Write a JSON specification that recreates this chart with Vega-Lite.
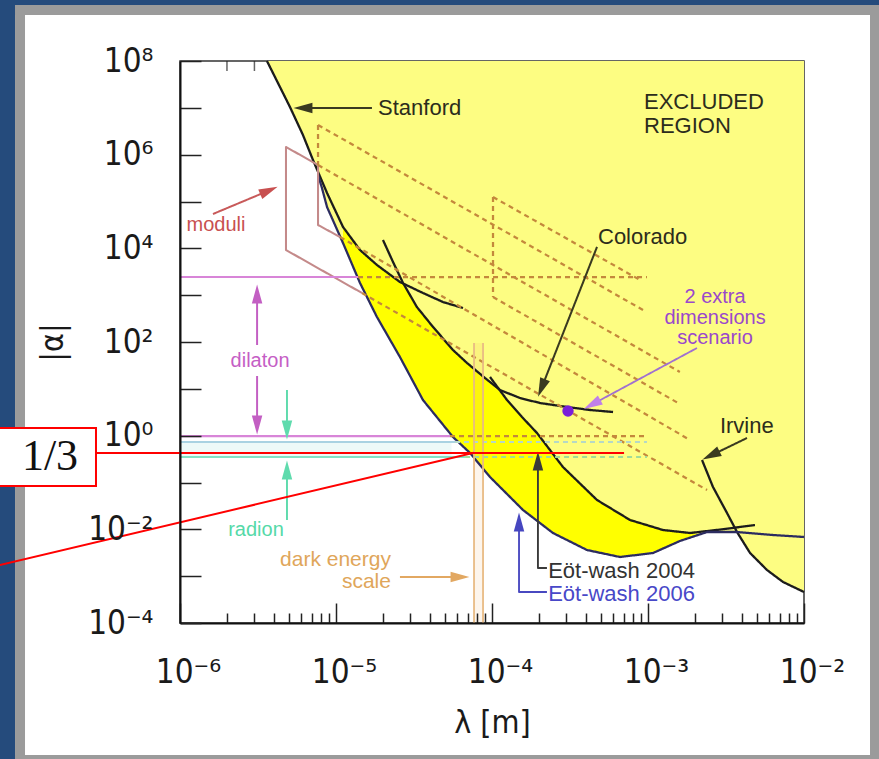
{
 "$schema": "https://vega.github.io/schema/vega-lite/v6.json",
 "width": 624, "height": 562,
 "autosize": {"type": "none"},
 "padding": {"left": 180, "top": 61, "right": 75, "bottom": 136},
 "background": "#ffffff",
 "config": {"view": {"stroke": null}},
 "datasets": {
  "pale": [
   {"x":3.61e-6,"y":1e8},{"x":5.07e-6,"y":1.04e7},{"x":6.14e-6,"y":2.63e6},{"x":7.12e-6,"y":7.69e5},
   {"x":7.67e-6,"y":3.68e5},{"x":8.13e-6,"y":1.94e5},{"x":8.76e-6,"y":7.63e4},{"x":1.109e-5,"y":1.3e4},
   {"x":1.425e-5,"y":1820},{"x":1.83e-5,"y":342},{"x":2.57e-5,"y":47.8},{"x":3.61e-5,"y":5.77},
   {"x":5.62e-5,"y":0.937},{"x":7.23e-5,"y":0.427},{"x":9.71e-5,"y":0.131},{"x":1.58e-4,"y":0.0259},
   {"x":2.46e-4,"y":0.00835},{"x":4.06e-4,"y":0.00362},{"x":6.61e-4,"y":0.002565},{"x":1.077e-3,"y":0.003124},
   {"x":1.6e-3,"y":0.00563},{"x":2.39e-3,"y":0.00877},{"x":3.72e-3,"y":0.00877},{"x":4.51e-3,"y":0.003124},
   {"x":5.79e-3,"y":0.001354},{"x":7.34e-3,"y":0.000751},{"x":1e-2,"y":0.000459}
  ],
  "bright": [
   {"x":1.109e-5,"lo":1.3e4,"hi":2.86e4},{"x":1.266e-5,"lo":4630,"hi":1.58e4},{"x":1.425e-5,"lo":1820,"hi":9210},
   {"x":1.652e-5,"lo":680,"hi":5920},{"x":1.915e-5,"lo":267,"hi":3990},{"x":2.29e-5,"lo":95.2,"hi":2700},
   {"x":2.69e-5,"lo":35.6,"hi":1820},{"x":3.3e-5,"lo":9.92,"hi":559},{"x":4.19e-5,"lo":3.2,"hi":209},
   {"x":5.62e-5,"lo":0.937,"hi":67.5},{"x":7.23e-5,"lo":0.427,"hi":30.7},{"x":9.02e-5,"lo":0.176,"hi":17.0},
   {"x":1.077e-4,"lo":0.0929,"hi":10.4},{"x":1.304e-4,"lo":0.049,"hi":4.98},{"x":1.627e-4,"lo":0.02344,"hi":2.16},
   {"x":2.03e-4,"lo":0.01365,"hi":0.937},{"x":2.73e-4,"lo":0.00703,"hi":0.2608},{"x":3.67e-4,"lo":0.0043,"hi":0.0929},
   {"x":4.92e-4,"lo":0.003155,"hi":0.03833},{"x":6.61e-4,"lo":0.002565,"hi":0.02125},{"x":8.89e-4,"lo":0.002887,"hi":0.01365},
   {"x":1.194e-3,"lo":0.00362,"hi":0.01016},{"x":1.6e-3,"lo":0.00563,"hi":0.00877},{"x":2.154e-3,"lo":0.00795,"hi":0.00795}
  ],
  "lines": [
   {"id":"st","k":"curve","o":1,"x":3.61e-6,"y":1e8},{"id":"st","k":"curve","o":2,"x":5.07e-6,"y":1.04e7},
   {"id":"st","k":"curve","o":3,"x":6.14e-6,"y":2.63e6},{"id":"st","k":"curve","o":4,"x":7.12e-6,"y":7.69e5},
   {"id":"st","k":"curve","o":5,"x":8.76e-6,"y":1.52e5},{"id":"st","k":"curve","o":6,"x":1.109e-5,"y":2.86e4},
   {"id":"st","k":"curve","o":7,"x":1.425e-5,"y":9210},{"id":"st","k":"curve","o":8,"x":1.83e-5,"y":4410},
   {"id":"st","k":"curve","o":9,"x":2.57e-5,"y":1910},{"id":"st","k":"curve","o":10,"x":3.61e-5,"y":1112},
   {"id":"st","k":"curve","o":11,"x":4.85e-5,"y":714},{"id":"st","k":"curve","o":12,"x":6.52e-5,"y":532},

   {"id":"co","k":"curve","o":1,"x":2.0e-5,"y":1.51e4},{"id":"co","k":"curve","o":2,"x":2.32e-5,"y":5110},
   {"id":"co","k":"curve","o":3,"x":2.69e-5,"y":1820},{"id":"co","k":"curve","o":4,"x":3.3e-5,"y":559},
   {"id":"co","k":"curve","o":5,"x":4.19e-5,"y":209},{"id":"co","k":"curve","o":6,"x":5.62e-5,"y":67.5},
   {"id":"co","k":"curve","o":7,"x":6.92e-5,"y":35.6},{"id":"co","k":"curve","o":8,"x":9.02e-5,"y":17.0},
   {"id":"co","k":"curve","o":9,"x":1.125e-4,"y":9.44},{"id":"co","k":"curve","o":10,"x":1.51e-4,"y":6.37},
   {"id":"co","k":"curve","o":11,"x":2.03e-4,"y":4.98},{"id":"co","k":"curve","o":12,"x":3.03e-4,"y":4.094},
   {"id":"co","k":"curve","o":13,"x":4.25e-4,"y":3.533},{"id":"co","k":"curve","o":14,"x":5.97e-4,"y":3.2},

   {"id":"e4","k":"curve","o":1,"x":9.71e-5,"y":17.9},{"id":"e4","k":"curve","o":2,"x":1.248e-4,"y":5.77},
   {"id":"e4","k":"curve","o":3,"x":1.557e-4,"y":2.503},{"id":"e4","k":"curve","o":4,"x":1.943e-4,"y":1.14},
   {"id":"e4","k":"curve","o":5,"x":2.85e-4,"y":0.2143},{"id":"e4","k":"curve","o":6,"x":4.71e-4,"y":0.0423},
   {"id":"e4","k":"curve","o":7,"x":7.67e-4,"y":0.01582},{"id":"e4","k":"curve","o":8,"x":1.248e-3,"y":0.009676},
   {"id":"e4","k":"curve","o":9,"x":1.86e-3,"y":0.00835},{"id":"e4","k":"curve","o":10,"x":3.03e-3,"y":0.01006},
   {"id":"e4","k":"curve","o":11,"x":4.85e-3,"y":0.01237},

   {"id":"ir","k":"curve","o":1,"x":2.22e-3,"y":0.3022},{"id":"ir","k":"curve","o":2,"x":2.61e-3,"y":0.0801},
   {"id":"ir","k":"curve","o":3,"x":3.21e-3,"y":0.02233},{"id":"ir","k":"curve","o":4,"x":3.72e-3,"y":0.00877},
   {"id":"ir","k":"curve","o":5,"x":4.51e-3,"y":0.003124},{"id":"ir","k":"curve","o":6,"x":5.79e-3,"y":0.001354},
   {"id":"ir","k":"curve","o":7,"x":7.34e-3,"y":0.000751},{"id":"ir","k":"curve","o":8,"x":1e-2,"y":0.000459},

   {"id":"e6","k":"ew2006","o":1,"x":7.67e-6,"y":3.68e5},{"id":"e6","k":"ew2006","o":2,"x":8.13e-6,"y":1.94e5},
   {"id":"e6","k":"ew2006","o":3,"x":8.76e-6,"y":7.63e4},{"id":"e6","k":"ew2006","o":4,"x":1.109e-5,"y":1.3e4},
   {"id":"e6","k":"ew2006","o":5,"x":1.425e-5,"y":1820},{"id":"e6","k":"ew2006","o":6,"x":1.83e-5,"y":342},
   {"id":"e6","k":"ew2006","o":7,"x":2.57e-5,"y":47.8},{"id":"e6","k":"ew2006","o":8,"x":3.61e-5,"y":5.77},
   {"id":"e6","k":"ew2006","o":9,"x":5.62e-5,"y":0.937},{"id":"e6","k":"ew2006","o":10,"x":7.23e-5,"y":0.427},
   {"id":"e6","k":"ew2006","o":11,"x":9.71e-5,"y":0.131},{"id":"e6","k":"ew2006","o":12,"x":1.58e-4,"y":0.0259},
   {"id":"e6","k":"ew2006","o":13,"x":2.46e-4,"y":0.00835},{"id":"e6","k":"ew2006","o":14,"x":4.06e-4,"y":0.00362},
   {"id":"e6","k":"ew2006","o":15,"x":6.61e-4,"y":0.002565},{"id":"e6","k":"ew2006","o":16,"x":1.077e-3,"y":0.003124},
   {"id":"e6","k":"ew2006","o":17,"x":1.6e-3,"y":0.00563},{"id":"e6","k":"ew2006","o":18,"x":2.39e-3,"y":0.00877},
   {"id":"e6","k":"ew2006","o":19,"x":3.72e-3,"y":0.00877},{"id":"e6","k":"ew2006","o":20,"x":6.33e-3,"y":0.007567},
   {"id":"e6","k":"ew2006","o":21,"x":1e-2,"y":0.00686},

   {"id":"mo","k":"moduli","o":1,"x":1.061e-5,"y":1.75e4},{"id":"mo","k":"moduli","o":2,"x":7.67e-6,"y":3.15e4},
   {"id":"mo","k":"moduli","o":3,"x":7.67e-6,"y":6.02e5},{"id":"mo","k":"moduli","o":4,"x":4.78e-6,"y":1.46e6},
   {"id":"mo","k":"moduli","o":5,"x":4.78e-6,"y":9210},{"id":"mo","k":"moduli","o":6,"x":1.468e-5,"y":1112},

   {"id":"d1","k":"dash","o":1,"x":7.67e-6,"y":4.3e6},{"id":"d1","k":"dash","o":2,"x":9.29e-4,"y":482},
   {"id":"d2","k":"dash","o":1,"x":7.67e-6,"y":6.02e5},{"id":"d2","k":"dash","o":2,"x":1.6e-3,"y":22.9},
   {"id":"d3","k":"dash","o":1,"x":1.061e-5,"y":1.75e4},{"id":"d3","k":"dash","o":2,"x":1.86e-3,"y":0.808},
   {"id":"d4","k":"dash","o":1,"x":1.468e-5,"y":1112},{"id":"d4","k":"dash","o":2,"x":2.39e-3,"y":0.0692},
   {"id":"pt","k":"dash","o":1,"x":1.015e-4,"y":1.248e5},{"id":"pt","k":"dash","o":2,"x":8.89e-4,"y":2110},
   {"id":"pb","k":"dash","o":1,"x":1.015e-4,"y":914},{"id":"pb","k":"dash","o":2,"x":1.6e-3,"y":4.745},
   {"id":"v1","k":"dash","o":1,"x":7.67e-6,"y":4.3e6},{"id":"v1","k":"dash","o":2,"x":7.67e-6,"y":6.02e5},
   {"id":"v2","k":"dash","o":1,"x":1.015e-4,"y":1.248e5},{"id":"v2","k":"dash","o":2,"x":1.015e-4,"y":914},
   {"id":"h1d","k":"dash","o":1,"x":1.384e-5,"y":2440},{"id":"h1d","k":"dash","o":2,"x":9.85e-4,"y":2440},
   {"id":"h2d","k":"dash","o":1,"x":5.38e-5,"y":0.98},{"id":"h2d","k":"dash","o":2,"x":9.85e-4,"y":0.98},
   {"id":"h3d","k":"dashc","o":1,"x":5.79e-5,"y":0.732},{"id":"h3d","k":"dashc","o":2,"x":9.85e-4,"y":0.732},
   {"id":"h4d","k":"dashg","o":1,"x":6.72e-5,"y":0.35},{"id":"h4d","k":"dashg","o":2,"x":9.85e-4,"y":0.35},
   {"id":"h1","k":"dil","o":1,"x":1e-6,"y":2440},{"id":"h1","k":"dil","o":2,"x":1.384e-5,"y":2440},
   {"id":"h2","k":"dil","o":1,"x":1e-6,"y":0.98},{"id":"h2","k":"dil","o":2,"x":5.38e-5,"y":0.98},
   {"id":"h3","k":"cyan","o":1,"x":1e-6,"y":0.732},{"id":"h3","k":"cyan","o":2,"x":5.79e-5,"y":0.732},
   {"id":"h4","k":"teal","o":1,"x":1e-6,"y":0.35},{"id":"h4","k":"teal","o":2,"x":6.72e-5,"y":0.35},

   {"id":"as","k":"olive","o":1,"x":1.7e-5,"y":9.92e6},{"id":"as","k":"olive","o":2,"x":6.24e-6,"y":9.92e6},
   {"id":"ac","k":"olive","o":1,"x":4.71e-4,"y":1.07e4},{"id":"ac","k":"olive","o":2,"x":2.09e-4,"y":10.94},
   {"id":"ai","k":"olive","o":1,"x":4.31e-3,"y":0.8914},{"id":"ai","k":"olive","o":2,"x":2.57e-3,"y":0.3866},
   {"id":"am","k":"modar","o":1,"x":1.627e-6,"y":5.41e4},{"id":"am","k":"modar","o":2,"x":3.665e-6,"y":1.68e5},
   {"id":"ad1","k":"dilar","o":1,"x":3.12e-6,"y":86.3},{"id":"ad1","k":"dilar","o":2,"x":3.12e-6,"y":1008},
   {"id":"ad2","k":"dilar","o":1,"x":3.12e-6,"y":18.8},{"id":"ad2","k":"dilar","o":2,"x":3.12e-6,"y":1.774},
   {"id":"ar1","k":"radar","o":1,"x":4.85e-6,"y":9.44},{"id":"ar1","k":"radar","o":2,"x":4.85e-6,"y":1.388},
   {"id":"ar2","k":"radar","o":1,"x":4.85e-6,"y":0.01582},{"id":"ar2","k":"radar","o":2,"x":4.85e-6,"y":0.176},
   {"id":"ade","k":"de","o":1,"x":2.57e-5,"y":9.6e-4},{"id":"ade","k":"de","o":2,"x":6.14e-5,"y":9.6e-4},
   {"id":"a04","k":"ew04","o":1,"x":2.25e-4,"y":1.494e-3},{"id":"a04","k":"ew04","o":2,"x":1.97e-4,"y":1.494e-3},
   {"id":"a04","k":"ew04","o":3,"x":1.97e-4,"y":0.274},
   {"id":"a06","k":"ew06","o":1,"x":2.25e-4,"y":4.59e-4},{"id":"a06","k":"ew06","o":2,"x":1.49e-4,"y":4.59e-4},
   {"id":"a06","k":"ew06","o":3,"x":1.49e-4,"y":0.01365},
   {"id":"a2x","k":"x2","o":1,"x":2.06e-3,"y":74.4},{"id":"a2x","k":"x2","o":2,"x":4.44e-4,"y":4.745},
   {"id":"dv1","k":"devert","o":1,"x":7.67e-5,"y":1e-4},{"id":"dv1","k":"devert","o":2,"x":7.67e-5,"y":95.3},
   {"id":"dv2","k":"devert","o":1,"x":8.76e-5,"y":1e-4},{"id":"dv2","k":"devert","o":2,"x":8.76e-5,"y":95.3}
  ],
  "red": [
   {"id":"r1","o":1,"x":2.894e-7,"y":0.427},{"id":"r1","o":2,"x":6.92e-4,"y":0.427},
   {"id":"r2","o":1,"x":7.02e-8,"y":1.731e-3},{"id":"r2","o":2,"x":7.55e-5,"y":0.427},
   {"id":"rb","o":1,"x":6.52e-8,"y":1.457},{"id":"rb","o":2,"x":2.894e-7,"y":1.457},
   {"id":"rb","o":3,"x":2.894e-7,"y":0.0842},{"id":"rb","o":4,"x":6.52e-8,"y":0.0842}
  ],
  "heads": [
   {"id":"up","k":"dilar","x":3.12e-6,"y":1008},{"id":"up","k":"radar","x":4.85e-6,"y":0.176},
   {"id":"up","k":"ew04","x":1.97e-4,"y":0.274},{"id":"up","k":"ew06","x":1.49e-4,"y":0.01365},
   {"id":"down","k":"dilar","x":3.12e-6,"y":1.774},{"id":"down","k":"radar","x":4.85e-6,"y":1.388},
   {"id":"left","k":"olive","x":6.24e-6,"y":9.92e6},
   {"id":"right","k":"de","x":6.14e-5,"y":9.6e-4},
   {"id":"colo","k":"olive","x":2.09e-4,"y":10.94},
   {"id":"mod","k":"modar","x":3.665e-6,"y":1.68e5},
   {"id":"irv","k":"olive","x":2.57e-3,"y":0.3866},
   {"id":"x2","k":"x2h","x":4.44e-4,"y":4.745}
  ],
  "txtL": [
   {"t":"Stanford","k":"dark","x":1.86e-5,"y":9.92e6},
   {"t":"EXCLUDED","k":"dark","x":9.43e-4,"y":1.33e7},
   {"t":"REGION","k":"dark","x":9.43e-4,"y":4.09e6},
   {"t":"Colorado","k":"dark","x":4.78e-4,"y":1.75e4},
   {"t":"Irvine","k":"dark","x":2.89e-3,"y":1.608}
  ],
  "txtEW": [
   {"t":"Eöt-wash 2004","k":"ew04","x":2.29e-4,"y":1.289e-3},
   {"t":"Eöt-wash 2006","k":"ew06","x":2.29e-4,"y":4.16e-4}
  ],
  "txtC": [
   {"t":"2 extra","k":"x2","x":2.69e-3,"y":914},
   {"t":"dimensions","k":"x2","x":2.69e-3,"y":325},
   {"t":"scenario","k":"x2","x":2.69e-3,"y":122},
   {"t":"moduli","k":"mod","x":1.7e-6,"y":3.15e4},
   {"t":"dilaton","k":"dil","x":3.26e-6,"y":39.3},
   {"t":"radion","k":"rad","x":3.07e-6,"y":0.00968}
  ],
  "txtR": [
   {"t":"dark energy","k":"de","x":2.25e-5,"y":0.002214},
   {"t":"scale","k":"de","x":2.25e-5,"y":0.000751}
  ]
 },
 "layer": [
  {"data":{"values":[{}]},"mark":{"type":"rect","fill":"#254b7c"},
   "encoding":{"x":{"datum":6.05e-8,"type":"quantitative","scale":{"type":"log","domain":[1e-6,1e-2],"nice":false},"axis":null},"x2":{"datum":8.76e-8},
    "y":{"datum":3.28e9,"type":"quantitative","scale":{"type":"log","domain":[1e-4,1e8],"nice":false},"axis":null},"y2":{"datum":7.26e-8}}},
  {"data":{"values":[{}]},"mark":{"type":"rect","fill":"#254b7c"},
   "encoding":{"x":{"datum":6.05e-8,"type":"quantitative","scale":{"type":"log","domain":[1e-6,1e-2],"nice":false},"axis":null},"x2":{"datum":3.56e-2},
    "y":{"datum":3.28e9,"type":"quantitative","scale":{"type":"log","domain":[1e-4,1e8],"nice":false},"axis":null},"y2":{"datum":1.569e9}}},
  {"data":{"values":[{}]},"mark":{"type":"rect","fill":"#9b9b9b"},
   "encoding":{"x":{"datum":8.76e-8,"type":"quantitative","scale":{"type":"log","domain":[1e-6,1e-2],"nice":false},"axis":null},"x2":{"datum":1.015e-7},
    "y":{"datum":1.569e9,"type":"quantitative","scale":{"type":"log","domain":[1e-4,1e8],"nice":false},"axis":null},"y2":{"datum":7.26e-8}}},
  {"data":{"values":[{}]},"mark":{"type":"rect","fill":"#9b9b9b"},
   "encoding":{"x":{"datum":8.76e-8,"type":"quantitative","scale":{"type":"log","domain":[1e-6,1e-2],"nice":false},"axis":null},"x2":{"datum":3.56e-2},
    "y":{"datum":1.569e9,"type":"quantitative","scale":{"type":"log","domain":[1e-4,1e8],"nice":false},"axis":null},"y2":{"datum":9.6e8}}},
  {"data":{"values":[{}]},"mark":{"type":"rect","fill":"#9b9b9b"},
   "encoding":{"x":{"datum":2.649e-2,"type":"quantitative","scale":{"type":"log","domain":[1e-6,1e-2],"nice":false},"axis":null},"x2":{"datum":3.56e-2},
    "y":{"datum":1.569e9,"type":"quantitative","scale":{"type":"log","domain":[1e-4,1e8],"nice":false},"axis":null},"y2":{"datum":7.26e-8}}},
  {"data":{"values":[{}]},"mark":{"type":"rect","fill":"#9b9b9b"},
   "encoding":{"x":{"datum":8.76e-8,"type":"quantitative","scale":{"type":"log","domain":[1e-6,1e-2],"nice":false},"axis":null},"x2":{"datum":3.56e-2},
    "y":{"datum":1.518e-7,"type":"quantitative","scale":{"type":"log","domain":[1e-4,1e8],"nice":false},"axis":null},"y2":{"datum":7.26e-8}}},
  {"data":{"values":[{}]},"mark":{"type":"rect","fillOpacity":0,"stroke":"#333333","strokeWidth":1.5},
   "encoding":{"x":{"datum":1e-6,"type":"quantitative","scale":{"type":"log","domain":[1e-6,1e-2],"nice":false},"axis":null},"x2":{"datum":1e-2},
    "y":{"datum":1e-4,"type":"quantitative","scale":{"type":"log","domain":[1e-4,1e8],"nice":false},"axis":null},"y2":{"datum":1e8}}},
  {"data":{"name":"pale"},"mark":{"type":"area","fill":"#fdfd82","stroke":null},
   "encoding":{
    "x":{"field":"x","type":"quantitative","scale":{"type":"log","domain":[1e-6,1e-2],"nice":false},
     "axis":{"orient":"bottom","zindex":1,"grid":false,
      "values":[1e-6,2e-6,3e-6,4e-6,5e-6,6e-6,7e-6,8e-6,9e-6,1e-5,2e-5,3e-5,4e-5,5e-5,6e-5,7e-5,8e-5,9e-5,1e-4,2e-4,3e-4,4e-4,5e-4,6e-4,7e-4,8e-4,9e-4,1e-3,2e-3,3e-3,4e-3,5e-3,6e-3,7e-3,8e-3,9e-3,1e-2],
      "labelExpr":"abs(log(datum.value)/LN10 - round(log(datum.value)/LN10)) < 0.01 ? '10' + (round(log(datum.value)/LN10) < 0 ? '⁻' : '') + substring('⁰¹²³⁴⁵⁶⁷⁸⁹', abs(round(log(datum.value)/LN10)), abs(round(log(datum.value)/LN10)) + 1) : ''",
      "tickSize":{"condition":{"test":"abs(log(datum.value)/LN10 - round(log(datum.value)/LN10)) < 0.01","value":-20},"value":-10},
      "tickColor":"#222222","tickWidth":1.5,"domainColor":"#111111","domainWidth":2,
      "labelFont":"Liberation Sans Narrow, DejaVu Sans Condensed, Liberation Sans","labelFontSize":33,"labelColor":"#1a1a1a",
      "labelPadding":53,"labelOffset":8,"labelFlush":false,"labelOverlap":false,"labelBound":false,"labelBaseline":"top",
      "title":"λ [m]","titleFont":"Liberation Sans Narrow, DejaVu Sans Condensed, Liberation Sans","titleFontSize":32,"titleFontWeight":"normal","titleColor":"#1a1a1a","titlePadding":8}},
    "y":{"field":"y","type":"quantitative","scale":{"type":"log","domain":[1e-4,1e8],"nice":false},
     "axis":{"orient":"left","zindex":1,"grid":false,
      "values":[1e-4,1e-3,1e-2,1e-1,1,10,100,1e3,1e4,1e5,1e6,1e7,1e8],
      "labelExpr":"round(log(datum.value)/LN10) % 2 == 0 ? '10' + (round(log(datum.value)/LN10) < 0 ? '⁻' : '') + substring('⁰¹²³⁴⁵⁶⁷⁸⁹', abs(round(log(datum.value)/LN10)), abs(round(log(datum.value)/LN10)) + 1) : ''",
      "tickSize":-21,"tickColor":"#222222","tickWidth":1.5,"domainColor":"#111111","domainWidth":2,
      "labelFont":"Liberation Sans Narrow, DejaVu Sans Condensed, Liberation Sans","labelFontSize":33,"labelColor":"#1a1a1a",
      "labelPadding":48,"labelFlush":false,"labelOverlap":false,"labelBound":false,"labelAlign":"right","labelBaseline":"middle",
      "title":"|α|","titleFont":"Liberation Sans Narrow, DejaVu Sans Condensed, Liberation Sans","titleFontSize":32,"titleFontWeight":"normal","titleColor":"#1a1a1a","titlePadding":18}},
    "y2":{"datum":1e8}}},
  {"data":{"name":"bright"},"mark":{"type":"area","fill":"#ffff00","stroke":null},
   "encoding":{"x":{"field":"x","type":"quantitative","scale":{"type":"log","domain":[1e-6,1e-2],"nice":false},"axis":null},
    "y":{"field":"lo","type":"quantitative","scale":{"type":"log","domain":[1e-4,1e8],"nice":false},"axis":null},"y2":{"field":"hi"}}},
  {"data":{"values":[{}]},"mark":{"type":"rect","fill":"#e8f8f6","opacity":0.8},
   "encoding":{"x":{"datum":1e-6,"type":"quantitative","scale":{"type":"log","domain":[1e-6,1e-2],"nice":false},"axis":null},"x2":{"datum":5.5e-5},
    "y":{"datum":0.72,"type":"quantitative","scale":{"type":"log","domain":[1e-4,1e8],"nice":false},"axis":null},"y2":{"datum":0.36}}},
  {"data":{"values":[{}]},"mark":{"type":"rect","fill":"#f0b060","opacity":0.12},
   "encoding":{"x":{"datum":7.67e-5,"type":"quantitative","scale":{"type":"log","domain":[1e-6,1e-2],"nice":false},"axis":null},"x2":{"datum":8.76e-5},
    "y":{"datum":1e-4,"type":"quantitative","scale":{"type":"log","domain":[1e-4,1e8],"nice":false},"axis":null},"y2":{"datum":95.3}}},
  {"data":{"values":[{"x":2e-6},{"x":3e-6}]},"mark":{"type":"tick","orient":"vertical","size":10,"thickness":1.5,"color":"#222222","yOffset":5},
   "encoding":{"x":{"field":"x","type":"quantitative","scale":{"type":"log","domain":[1e-6,1e-2],"nice":false},"axis":null},
    "y":{"datum":1e8,"type":"quantitative","scale":{"type":"log","domain":[1e-4,1e8],"nice":false},"axis":null}}},
  {"data":{"name":"lines"},"mark":{"type":"line","strokeCap":"butt","strokeJoin":"round"},
   "encoding":{"x":{"field":"x","type":"quantitative","scale":{"type":"log","domain":[1e-6,1e-2],"nice":false},"axis":null},
    "y":{"field":"y","type":"quantitative","scale":{"type":"log","domain":[1e-4,1e8],"nice":false},"axis":null},
    "detail":{"field":"id"},"order":{"field":"o","type":"quantitative"},
    "stroke":{"field":"k","type":"nominal","legend":null,"scale":{
     "domain":["curve","ew2006","dash","dashc","dashg","dil","cyan","teal","moduli","olive","modar","dilar","radar","de","ew04","ew06","x2","devert"],
     "range":["#1c1c1c","#2c2c60","#c4883c","#b5d8c6","#a2db98","#d885d8","#a9d2e2","#84e2c4","#c48a8a","#3a3a20","#c85a5a","#c35fc3","#5fdbad","#e2a862","#3a3a3a","#4848c0","#a070d0","#e9bb84"]}},
    "strokeWidth":{"field":"k","type":"nominal","legend":null,"scale":{
     "domain":["curve","ew2006","dash","dashc","dashg","dil","cyan","teal","moduli","olive","modar","dilar","radar","de","ew04","ew06","x2","devert"],
     "range":[2.3,1.8,1.4,1.4,1.4,2,2,2,1.6,1.6,1.6,1.8,1.8,2,1.5,1.5,1.5,2]}},
    "strokeDash":{"field":"k","type":"nominal","legend":null,"scale":{
     "domain":["curve","ew2006","dash","dashc","dashg","dil","cyan","teal","moduli","olive","modar","dilar","radar","de","ew04","ew06","x2","devert"],
     "range":[[1,0],[1,0],[5,4],[5,4],[5,4],[1,0],[1,0],[1,0],[1,0],[1,0],[1,0],[1,0],[1,0],[1,0],[1,0],[1,0],[1,0],[1,0]]}}}},
  {"data":{"name":"heads"},"transform":[{"filter":"datum.id == 'up'"}],"mark":{"type":"point","shape":"M0,-1L0.5,0.8L-0.5,0.8Z","filled":true,"size":440,"opacity":1,"angle":0,"strokeWidth":0},
   "encoding":{"x":{"field":"x","type":"quantitative","scale":{"type":"log","domain":[1e-6,1e-2],"nice":false},"axis":null},
    "y":{"field":"y","type":"quantitative","scale":{"type":"log","domain":[1e-4,1e8],"nice":false},"axis":null},
    "fill":{"field":"k","type":"nominal","legend":null,"scale":{"domain":["dilar","radar","ew04","ew06","olive","de","modar","x2h"],"range":["#c35fc3","#5fdbad","#3a3a3a","#4646c0","#3a3a20","#e2a862","#c85050","#c080e8"]}}}},
  {"data":{"name":"heads"},"transform":[{"filter":"datum.id == 'down'"}],"mark":{"type":"point","shape":"M0,-1L0.5,0.8L-0.5,0.8Z","filled":true,"size":440,"opacity":1,"angle":180,"strokeWidth":0},
   "encoding":{"x":{"field":"x","type":"quantitative","scale":{"type":"log","domain":[1e-6,1e-2],"nice":false},"axis":null},
    "y":{"field":"y","type":"quantitative","scale":{"type":"log","domain":[1e-4,1e8],"nice":false},"axis":null},
    "fill":{"field":"k","type":"nominal","legend":null,"scale":{"domain":["dilar","radar","ew04","ew06","olive","de","modar","x2h"],"range":["#c35fc3","#5fdbad","#3a3a3a","#4646c0","#3a3a20","#e2a862","#c85050","#c080e8"]}}}},
  {"data":{"name":"heads"},"transform":[{"filter":"datum.id == 'left'"}],"mark":{"type":"point","shape":"M0,-1L0.5,0.8L-0.5,0.8Z","filled":true,"size":440,"opacity":1,"angle":270,"strokeWidth":0},
   "encoding":{"x":{"field":"x","type":"quantitative","scale":{"type":"log","domain":[1e-6,1e-2],"nice":false},"axis":null},
    "y":{"field":"y","type":"quantitative","scale":{"type":"log","domain":[1e-4,1e8],"nice":false},"axis":null},
    "fill":{"field":"k","type":"nominal","legend":null,"scale":{"domain":["dilar","radar","ew04","ew06","olive","de","modar","x2h"],"range":["#c35fc3","#5fdbad","#3a3a3a","#4646c0","#3a3a20","#e2a862","#c85050","#c080e8"]}}}},
  {"data":{"name":"heads"},"transform":[{"filter":"datum.id == 'right'"}],"mark":{"type":"point","shape":"M0,-1L0.5,0.8L-0.5,0.8Z","filled":true,"size":440,"opacity":1,"angle":90,"strokeWidth":0},
   "encoding":{"x":{"field":"x","type":"quantitative","scale":{"type":"log","domain":[1e-6,1e-2],"nice":false},"axis":null},
    "y":{"field":"y","type":"quantitative","scale":{"type":"log","domain":[1e-4,1e8],"nice":false},"axis":null},
    "fill":{"field":"k","type":"nominal","legend":null,"scale":{"domain":["dilar","radar","ew04","ew06","olive","de","modar","x2h"],"range":["#c35fc3","#5fdbad","#3a3a3a","#4646c0","#3a3a20","#e2a862","#c85050","#c080e8"]}}}},
  {"data":{"name":"heads"},"transform":[{"filter":"datum.id == 'colo'"}],"mark":{"type":"point","shape":"M0,-1L0.5,0.8L-0.5,0.8Z","filled":true,"size":440,"opacity":1,"angle":201.7,"strokeWidth":0},
   "encoding":{"x":{"field":"x","type":"quantitative","scale":{"type":"log","domain":[1e-6,1e-2],"nice":false},"axis":null},
    "y":{"field":"y","type":"quantitative","scale":{"type":"log","domain":[1e-4,1e8],"nice":false},"axis":null},
    "fill":{"field":"k","type":"nominal","legend":null,"scale":{"domain":["dilar","radar","ew04","ew06","olive","de","modar","x2h"],"range":["#c35fc3","#5fdbad","#3a3a3a","#4646c0","#3a3a20","#e2a862","#c85050","#c080e8"]}}}},
  {"data":{"name":"heads"},"transform":[{"filter":"datum.id == 'mod'"}],"mark":{"type":"point","shape":"M0,-1L0.5,0.8L-0.5,0.8Z","filled":true,"size":440,"opacity":1,"angle":67,"strokeWidth":0},
   "encoding":{"x":{"field":"x","type":"quantitative","scale":{"type":"log","domain":[1e-6,1e-2],"nice":false},"axis":null},
    "y":{"field":"y","type":"quantitative","scale":{"type":"log","domain":[1e-4,1e8],"nice":false},"axis":null},
    "fill":{"field":"k","type":"nominal","legend":null,"scale":{"domain":["dilar","radar","ew04","ew06","olive","de","modar","x2h"],"range":["#c35fc3","#5fdbad","#3a3a3a","#4646c0","#3a3a20","#e2a862","#c85050","#c080e8"]}}}},
  {"data":{"name":"heads"},"transform":[{"filter":"datum.id == 'irv'"}],"mark":{"type":"point","shape":"M0,-1L0.5,0.8L-0.5,0.8Z","filled":true,"size":440,"opacity":1,"angle":243.9,"strokeWidth":0},
   "encoding":{"x":{"field":"x","type":"quantitative","scale":{"type":"log","domain":[1e-6,1e-2],"nice":false},"axis":null},
    "y":{"field":"y","type":"quantitative","scale":{"type":"log","domain":[1e-4,1e8],"nice":false},"axis":null},
    "fill":{"field":"k","type":"nominal","legend":null,"scale":{"domain":["dilar","radar","ew04","ew06","olive","de","modar","x2h"],"range":["#c35fc3","#5fdbad","#3a3a3a","#4646c0","#3a3a20","#e2a862","#c85050","#c080e8"]}}}},
  {"data":{"name":"heads"},"transform":[{"filter":"datum.id == 'x2'"}],"mark":{"type":"point","shape":"M0,-1L0.5,0.8L-0.5,0.8Z","filled":true,"size":440,"opacity":1,"angle":241.5,"strokeWidth":0},
   "encoding":{"x":{"field":"x","type":"quantitative","scale":{"type":"log","domain":[1e-6,1e-2],"nice":false},"axis":null},
    "y":{"field":"y","type":"quantitative","scale":{"type":"log","domain":[1e-4,1e8],"nice":false},"axis":null},
    "fill":{"field":"k","type":"nominal","legend":null,"scale":{"domain":["dilar","radar","ew04","ew06","olive","de","modar","x2h"],"range":["#c35fc3","#5fdbad","#3a3a3a","#4646c0","#3a3a20","#e2a862","#c85050","#c080e8"]}}}},
  {"data":{"values":[{"x":3.07e-4,"y":3.36}]},"mark":{"type":"point","shape":"circle","filled":true,"size":130,"opacity":1,"fill":"#7a1fd8","strokeWidth":0},
   "encoding":{"x":{"field":"x","type":"quantitative","scale":{"type":"log","domain":[1e-6,1e-2],"nice":false},"axis":null},
    "y":{"field":"y","type":"quantitative","scale":{"type":"log","domain":[1e-4,1e8],"nice":false},"axis":null}}},
  {"data":{"values":[{}]},"mark":{"type":"rect","fill":"#ffffff"},
   "encoding":{"x":{"datum":6.52e-8,"type":"quantitative","scale":{"type":"log","domain":[1e-6,1e-2],"nice":false},"axis":null},"x2":{"datum":2.894e-7},
    "y":{"datum":1.457,"type":"quantitative","scale":{"type":"log","domain":[1e-4,1e8],"nice":false},"axis":null},"y2":{"datum":0.0842}}},
  {"data":{"name":"red"},"mark":{"type":"line","stroke":"#ff0000","strokeWidth":2,"strokeCap":"square"},
   "encoding":{"x":{"field":"x","type":"quantitative","scale":{"type":"log","domain":[1e-6,1e-2],"nice":false},"axis":null},
    "y":{"field":"y","type":"quantitative","scale":{"type":"log","domain":[1e-4,1e8],"nice":false},"axis":null},
    "detail":{"field":"id"},"order":{"field":"o","type":"quantitative"}}},
  {"data":{"values":[{"t":"1/3","x":1.468e-7,"y":0.35}]},"mark":{"type":"text","font":"Liberation Serif","fontSize":44,"align":"center","baseline":"middle","fill":"#111111"},
   "encoding":{"x":{"field":"x","type":"quantitative","scale":{"type":"log","domain":[1e-6,1e-2],"nice":false},"axis":null},
    "y":{"field":"y","type":"quantitative","scale":{"type":"log","domain":[1e-4,1e8],"nice":false},"axis":null},"text":{"field":"t"}}},
  {"data":{"name":"txtL"},"mark":{"type":"text","font":"Liberation Sans","fontSize":22,"align":"left","baseline":"middle"},
   "encoding":{"x":{"field":"x","type":"quantitative","scale":{"type":"log","domain":[1e-6,1e-2],"nice":false},"axis":null},
    "y":{"field":"y","type":"quantitative","scale":{"type":"log","domain":[1e-4,1e8],"nice":false},"axis":null},"text":{"field":"t"},
    "fill":{"field":"k","type":"nominal","legend":null,"scale":{"domain":["dark","mod","dil","rad","de","x2","ew04","ew06"],"range":["#2c2c1c","#c85050","#c55ec5","#55d9a8","#e0a65a","#9a48cc","#333333","#4848c8"]}}}},
  {"data":{"name":"txtEW"},"mark":{"type":"text","font":"Liberation Sans","fontSize":22,"align":"left","baseline":"middle"},
   "encoding":{"x":{"field":"x","type":"quantitative","scale":{"type":"log","domain":[1e-6,1e-2],"nice":false},"axis":null},
    "y":{"field":"y","type":"quantitative","scale":{"type":"log","domain":[1e-4,1e8],"nice":false},"axis":null},"text":{"field":"t"},
    "fill":{"field":"k","type":"nominal","legend":null,"scale":{"domain":["dark","mod","dil","rad","de","x2","ew04","ew06"],"range":["#2c2c1c","#c85050","#c55ec5","#55d9a8","#e0a65a","#9a48cc","#333333","#4848c8"]}}}},
  {"data":{"name":"txtC"},"mark":{"type":"text","font":"Liberation Sans","fontSize":20,"align":"center","baseline":"middle"},
   "encoding":{"x":{"field":"x","type":"quantitative","scale":{"type":"log","domain":[1e-6,1e-2],"nice":false},"axis":null},
    "y":{"field":"y","type":"quantitative","scale":{"type":"log","domain":[1e-4,1e8],"nice":false},"axis":null},"text":{"field":"t"},
    "fill":{"field":"k","type":"nominal","legend":null,"scale":{"domain":["dark","mod","dil","rad","de","x2","ew04","ew06"],"range":["#2c2c1c","#c85050","#c55ec5","#55d9a8","#e0a65a","#9a48cc","#333333","#4848c8"]}}}},
  {"data":{"name":"txtR"},"mark":{"type":"text","font":"Liberation Sans","fontSize":21,"align":"right","baseline":"middle"},
   "encoding":{"x":{"field":"x","type":"quantitative","scale":{"type":"log","domain":[1e-6,1e-2],"nice":false},"axis":null},
    "y":{"field":"y","type":"quantitative","scale":{"type":"log","domain":[1e-4,1e8],"nice":false},"axis":null},"text":{"field":"t"},
    "fill":{"field":"k","type":"nominal","legend":null,"scale":{"domain":["dark","mod","dil","rad","de","x2","ew04","ew06"],"range":["#2c2c1c","#c85050","#c55ec5","#55d9a8","#e0a65a","#9a48cc","#333333","#4848c8"]}}}}
 ],
 "resolve": {"scale": {"fill": "independent"}, "axis": {"x": "independent", "y": "independent"}}
}
